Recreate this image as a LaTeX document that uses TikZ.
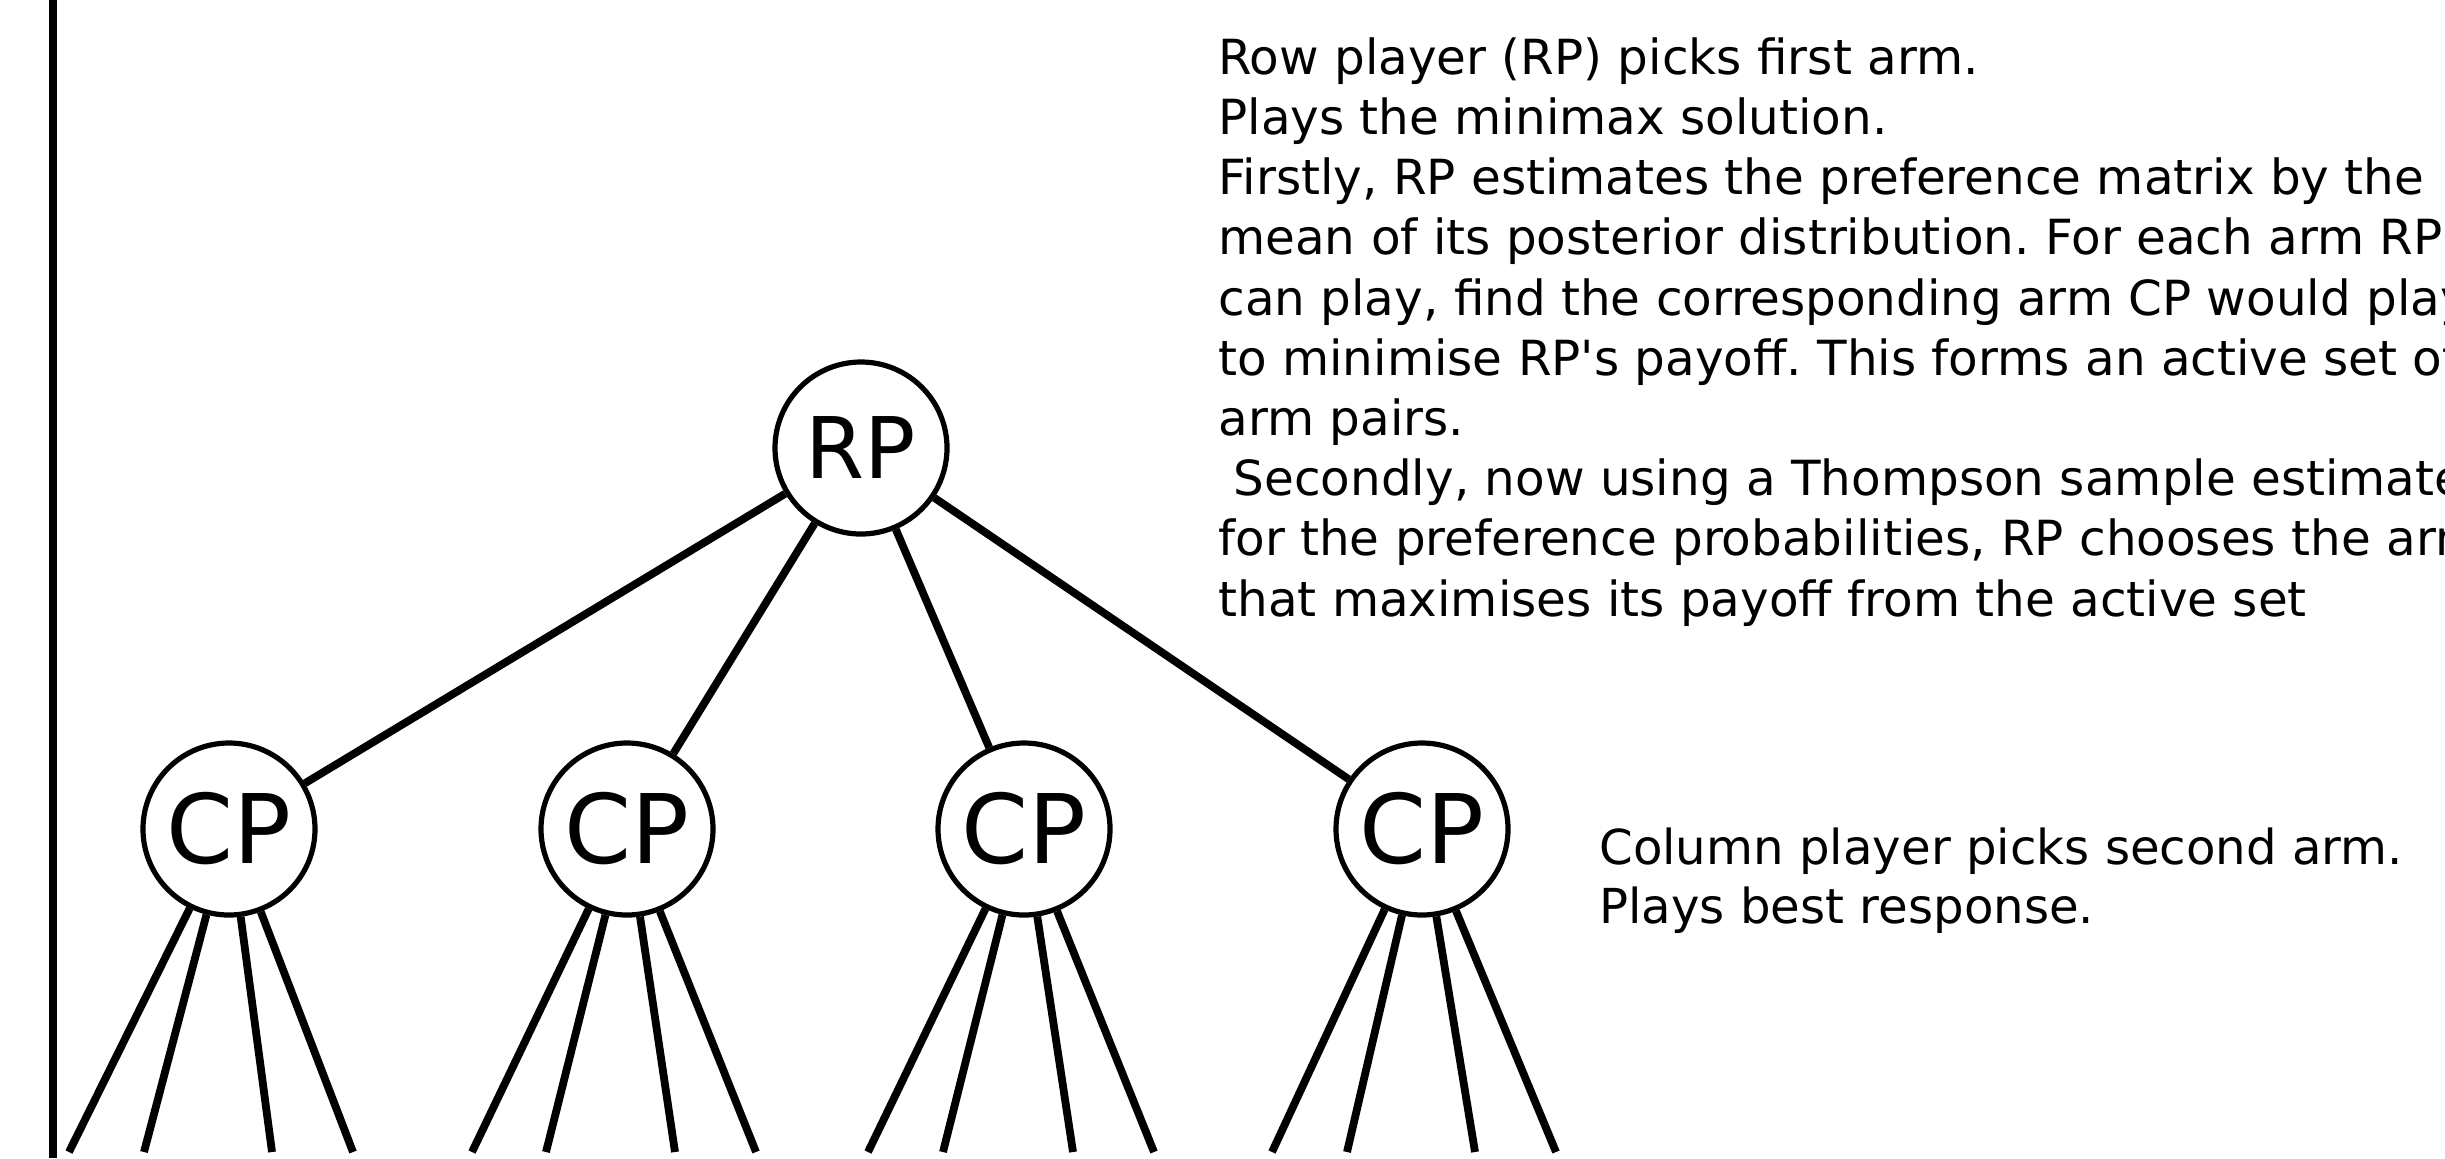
\documentclass[tikz,border=0pt]{standalone}
\usepackage{fontspec}
\setmainfont{DejaVu Sans}
\frenchspacing
\usetikzlibrary{positioning}

\begin{document}
\begin{tikzpicture}[x=0.5pt, y=-0.5pt, line cap=butt,
    player/.style={circle, draw, line width=2.6pt, minimum size=86pt, inner sep=0pt},
    branch/.style={line width=3.9pt},
    note/.style={anchor=base west, align=left, inner sep=0pt}]
  \clip (0,0) rectangle (2445,1158);
  \draw[line width=3.7pt] (53,0) -- (53,1158);

  \node[player, font=\fontsize{42.5}{50}\selectfont] (rp) at (861,448) {RP};
  \foreach \x/\i in {229/1, 627/2, 1024/3, 1422/4} {
    \node[player, font=\fontsize{48}{56}\selectfont] (cp\i) at (\x,829) {CP};
    \draw[branch] (rp) -- (cp\i);
  }
  \foreach \i/\a/\b/\c/\d in {1/69/144/272/353, 2/472/546/675/756,
      3/868/943/1073/1154, 4/1272/1347/1475/1556} {
    \foreach \e [count=\k] in {\a,\b,\c,\d} {
      \coordinate (leaf\i\k) at (\e,1152);
      \draw[branch] (cp\i) -- (leaf\i\k);
    }
  }

  \node[note, font=\fontsize{24.2}{30.1}\selectfont] (rpnote) at (1218,616)
    {Row player (RP) picks first arm.\\
     Plays the minimax solution.\\
     Firstly, RP estimates the preference matrix by the\\
     mean of its posterior distribution. For each arm RP\\
     can play, find the corresponding arm CP would play\\
     to minimise RP\textquotesingle s payoff. This forms an active set of\\
     arm pairs.\\
     \ Secondly, now using a Thompson sample estimate\\
     for the preference probabilities, RP chooses the arm\\
     that maximises its payoff from the active set};
  \node[note, font=\fontsize{24.1}{29.2}\selectfont] (cpnote) at (1599,923)
    {Column player picks second arm.\\
     Plays best response.};
\end{tikzpicture}
\end{document}
